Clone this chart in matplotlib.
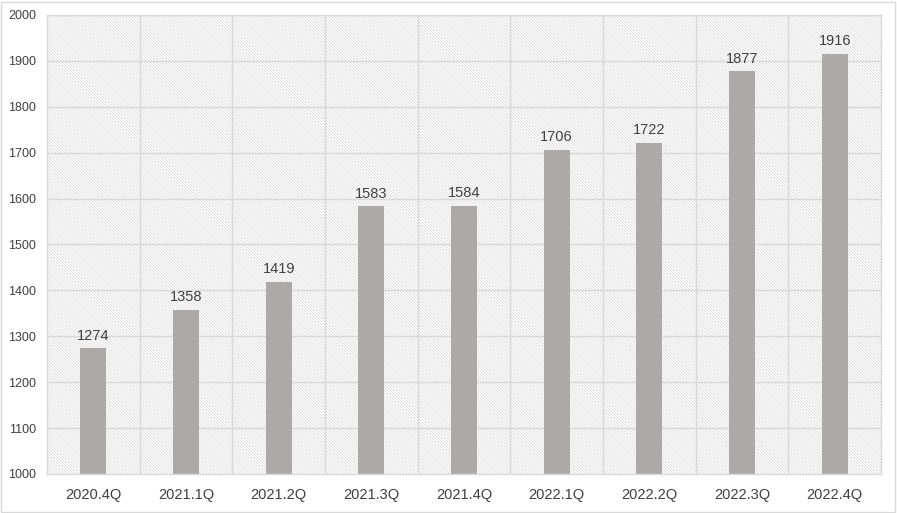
import matplotlib.pyplot as plt
from matplotlib.patches import Rectangle
import numpy as np

quarters = ['2020.4Q', '2021.1Q', '2021.2Q', '2021.3Q', '2021.4Q',
            '2022.1Q', '2022.2Q', '2022.3Q', '2022.4Q']
values = [1274, 1358, 1419, 1583, 1584, 1706, 1722, 1877, 1916]

plt.rcParams['font.family'] = ['Liberation Sans', 'DejaVu Sans']
plt.rcParams['hatch.color'] = '#d6d6d6'
plt.rcParams['hatch.linewidth'] = 0.5

fig = plt.figure(figsize=(8.97, 5.13), dpi=100)
ax = fig.add_axes([47 / 897, 39 / 513, 834 / 897, 459 / 513])

x = np.arange(len(quarters))
ax.set_xlim(-0.5, len(quarters) - 0.5)
ax.set_ylim(1000, 2000)

# hatched plot-area background
ax.add_patch(Rectangle((0, 0), 1, 1, transform=ax.transAxes, facecolor='white',
                       edgecolor='#d6d6d6', hatch='\\' * 11, linewidth=0, zorder=0))

# grid
for yv in range(1100, 2001, 100):
    ax.axhline(yv, color='#d9d9d9', linewidth=1, zorder=1)
for xv in np.arange(0.5, len(quarters) - 0.5, 1):
    ax.axvline(xv, color='#d9d9d9', linewidth=1, zorder=1)

bars = ax.bar(x, np.array(values) - 1000, bottom=1000, width=0.28,
              color='#ada9a8', zorder=2)
for xi, v in zip(x, values):
    ax.text(xi, v + 12, str(v), ha='center', va='bottom', fontsize=10.5,
            color='#404040', zorder=3)

ax.set_xticks(x)
ax.set_xticklabels(quarters, fontsize=10.5, color='#404040')
ax.set_yticks(range(1000, 2001, 100))
ax.set_yticklabels([str(v) for v in range(1000, 2001, 100)], fontsize=9, color='#404040')
ax.tick_params(length=0, pad=8)
ax.tick_params(axis='x', pad=10)
for s in ax.spines.values():
    s.set_color('#d9d9d9')
    s.set_linewidth(1)

# outer border
fig.patches.append(Rectangle((0.001, 0.001), 0.997, 0.996, transform=fig.transFigure,
                             fill=False, edgecolor='#d9d9d9', linewidth=1))

fig.savefig('out.png', dpi=100)
